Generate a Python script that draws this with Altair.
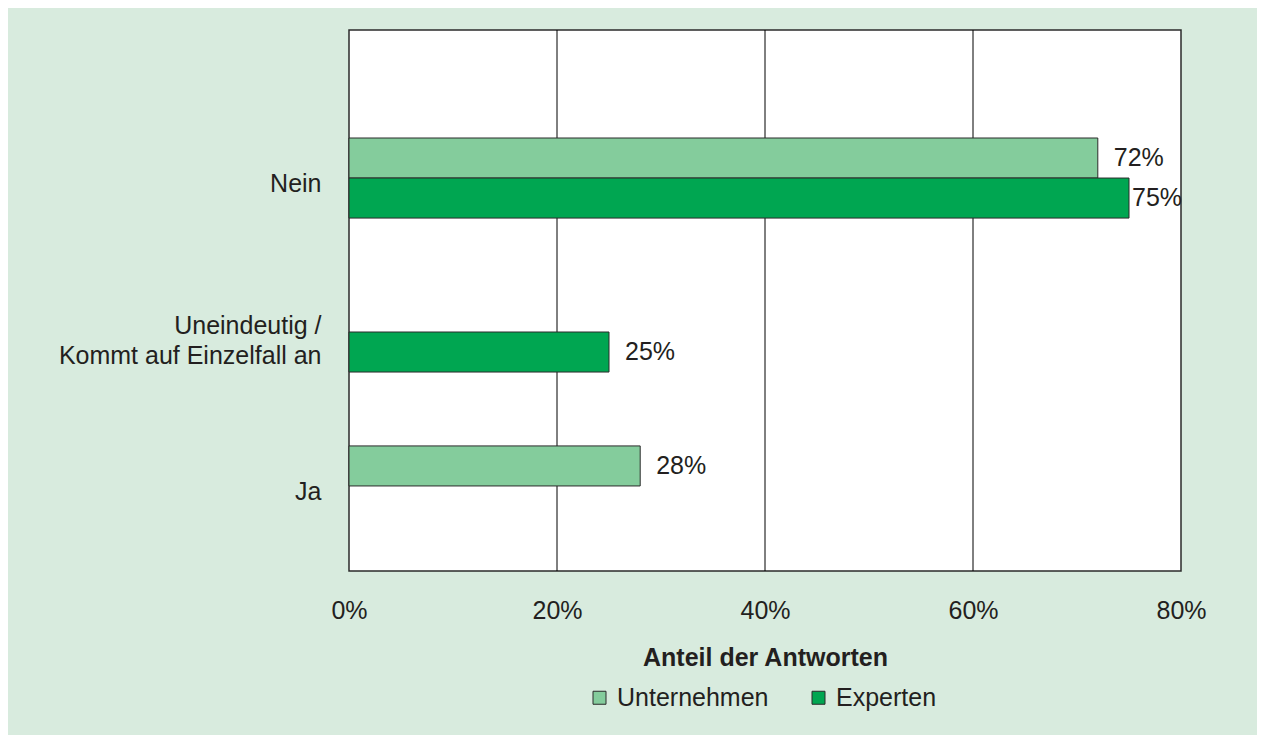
import altair as alt
import pandas as pd

categories = ["Nein", "Uneindeutig / Kommt auf Einzelfall an", "Ja"]
series = ["Unternehmen", "Experten"]
unternehmen = [72, None, 28]
experten = [75, 25, None]
x_ticks = [0, 20, 40, 60, 80]
grid_ticks = [20, 40, 60]

rows = []
for i, c in enumerate(categories):
    for s, vals in zip(series, [unternehmen, experten]):
        v = vals[i]
        if v is not None:
            rows.append({"Kategorie": c, "Gruppe": s, "Wert": v / 100.0, "Label": f"{v}%"})
df = pd.DataFrame(rows)
grid_df = pd.DataFrame({"Wert": [g / 100 for g in grid_ticks]})

FONT = "Liberation Sans"
TXT = "#231f20"
FS = 25
colors = ["#84cc9c", "#00a651"]
LONG = "Uneindeutig / Kommt auf Einzelfall an"

y_enc = alt.Y(
    "Kategorie:N",
    sort=categories,
    scale=alt.Scale(domain=categories, range=[108, 496], paddingInner=0.48, paddingOuter=0),
    axis=alt.Axis(
        title=None,
        ticks=False,
        domain=False,
        grid=False,
        labelFontSize=FS,
        labelFont=FONT,
        labelColor=TXT,
        labelPadding=28,
        labelLimit=400,
        labelOffset={"condition": {"test": f"datum.value == '{LONG}'", "value": -6}, "value": 6},
        labelLineHeight=30,
        labelExpr=f"datum.value == '{LONG}' ? ['Uneindeutig /', 'Kommt auf Einzelfall an'] : datum.value",
    ),
)
yoff = alt.YOffset("Gruppe:N", scale=alt.Scale(domain=series, paddingInner=0, paddingOuter=0))
x_scale = alt.Scale(domain=[0, 0.8], nice=False)
x_enc = alt.X(
    "Wert:Q",
    scale=x_scale,
    axis=alt.Axis(
        title="Anteil der Antworten",
        values=[t / 100 for t in x_ticks],
        format=".0%",
        ticks=False,
        domain=False,
        grid=False,
        labelFlush=False,
        labelFontSize=FS,
        labelFont=FONT,
        labelColor=TXT,
        labelPadding=27,
        titleFont=FONT,
        titleFontSize=FS,
        titleFontWeight="bold",
        titleColor=TXT,
        titlePadding=22,
    ),
)

grid = alt.Chart(grid_df).mark_rule(color="#000000", strokeWidth=1).encode(
    x=alt.X("Wert:Q", scale=x_scale)
)

base = alt.Chart(df)

bars = base.mark_bar(stroke="#2b2b2b", strokeWidth=1).encode(
    x=x_enc,
    y=y_enc,
    yOffset=yoff,
    color=alt.Color(
        "Gruppe:N",
        scale=alt.Scale(domain=series, range=colors),
        legend=alt.Legend(
            title=None,
            orient="none",
            direction="horizontal",
            legendX=238,
            legendY=655,
            labelFontSize=FS,
            labelFont=FONT,
            labelColor=TXT,
            symbolType="square",
            symbolSize=169,
            symbolStrokeColor="#2b2b2b",
            symbolStrokeWidth=1,
            symbolOpacity=1,
            columnPadding=37,
            labelOffset=5,
        ),
    ),
)

text_far = base.transform_filter("datum.Wert <= 0.73").mark_text(
    align="left", baseline="middle", dx=16, fontSize=FS, font=FONT, color=TXT
).encode(x="Wert:Q", y=alt.Y("Kategorie:N", sort=categories), yOffset=yoff, text="Label:N")

text_near = base.transform_filter("datum.Wert > 0.73").mark_text(
    align="left", baseline="middle", dx=3, fontSize=FS, font=FONT, color=TXT
).encode(x="Wert:Q", y=alt.Y("Kategorie:N", sort=categories), yOffset=yoff, text="Label:N")

chart = (
    alt.layer(grid, bars, text_far, text_near)
    .properties(
        width=832,
        height=541,
        background="#d8ebde",
        padding={"left": 341, "top": 22, "right": 76, "bottom": 164},
        autosize=alt.AutoSizeParams(type="none"),
    )
    .configure_view(fill="#ffffff", stroke="#2b2b2b", strokeWidth=1.5)
)

chart.save("out.html", embed_options={"renderer": "svg", "actions": False})
